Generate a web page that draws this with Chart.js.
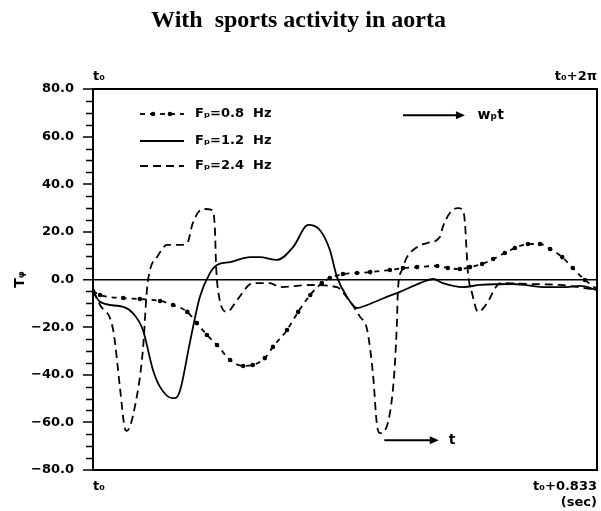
<!DOCTYPE html>
<html lang="en">
<head>
  <meta charset="UTF-8" />
  <title>With sports activity in aorta</title>
  <script src="https://cdn.jsdelivr.net/npm/chart.js"></script>
  <style>
    html, body { margin: 0; padding: 0; background: #fff; }
    #wrap { width: 601px; height: 511px; }
  </style>
</head>
<body>
  <div id="wrap"><canvas id="chart"></canvas></div>
  <script>
    // time axis runs 0..100 (t0 -> t0+0.833 s), values are T_phi
    const yTicks = [-80, -60, -40, -20, 0, 20, 40, 60, 80];
    const bottomLabels = ['t₀', ['t₀+0.833', '(sec)']];
    const topLabels = ['t₀', 't₀+2π'];
    const seriesNames = ['Fₚ=0.8  Hz', 'Fₚ=1.2  Hz', 'Fₚ=2.4  Hz'];

    const x08 = [0, 1.4, 6.0, 9.3, 13.3, 15.9, 18.7, 20.6, 22.6, 24.6, 27.2, 29.8, 31.7, 34.1, 35.7, 38.5, 40.7, 43.1, 45.4, 47.0, 49.6, 52.4, 55.0, 58.9, 61.5, 64.3, 68.3, 70.4, 72.8, 74.8, 77.2, 79.4, 81.7, 83.7, 86.3, 88.7, 90.7, 93.1, 95.2, 97.6, 100];
    const y08 = [-4.8, -6.5, -7.8, -8.2, -9.0, -10.7, -13.6, -18.3, -23.3, -27.5, -33.8, -36.3, -35.9, -33.0, -28.3, -21.2, -13.6, -6.5, -1.5, 0.6, 2.3, 2.7, 3.1, 4.0, 4.8, 5.2, 5.7, 4.8, 4.4, 5.2, 6.5, 8.6, 11.1, 13.2, 14.9, 14.9, 12.8, 9.4, 4.8, -0.2, -4.0];

    const x12 = [0, 1.4, 6.0, 7.9, 9.9, 11.9, 13.3, 15.7, 16.3, 17.3, 19.2, 21.2, 23.2, 24.6, 27.2, 31.2, 33.1, 36.5, 39.7, 42.7, 45.0, 47.0, 48.4, 50.4, 52.4, 54.4, 58.3, 60.9, 64.9, 67.5, 69.4, 73.4, 76.8, 83.3, 90.1, 93.3, 96.6, 100];
    const y12 = [-4.8, -9.4, -11.5, -14.1, -21.2, -38.0, -45.1, -49.8, -49.8, -46.4, -26.7, -7.3, 2.7, 6.1, 7.3, 9.4, 9.4, 8.2, 13.6, 22.9, 20.8, 12.4, 1.1, -7.3, -12.0, -10.7, -7.3, -5.2, -1.5, 0.2, -1.5, -3.2, -2.3, -1.9, -3.2, -3.2, -2.7, -4.4];

    const x24 = [0, 1.4, 4.0, 5.4, 6.3, 6.7, 8.3, 9.9, 10.7, 11.3, 12.7, 14.7, 17.3, 18.7, 19.8, 21.8, 23.6, 24.2, 24.4, 24.8, 26.6, 28.6, 31.7, 35.1, 37.1, 43.1, 48.4, 50.0, 53.0, 54.4, 55.6, 56.3, 56.9, 59.5, 60.3, 60.5, 61.3, 62.3, 64.3, 66.3, 68.8, 69.4, 70.8, 72.4, 73.4, 73.8, 74.2, 74.4, 75.2, 76.4, 78.2, 79.8, 80.8, 86.7, 92.7, 100];
    const y24 = [-4.8, -10.7, -21.2, -46.4, -62.4, -63.6, -53.5, -29.6, -4.4, 4.0, 9.4, 14.5, 14.5, 15.3, 23.7, 29.6, 29.2, 20.8, 6.9, -4.4, -13.6, -8.6, -1.5, -1.5, -3.2, -2.3, -3.2, -6.5, -15.7, -21.2, -40.9, -60.3, -64.5, -46.4, -18.3, -4.4, 4.0, 9.4, 13.6, 15.3, 17.8, 22.0, 27.9, 30.0, 29.2, 23.7, 9.4, 2.7, -5.7, -13.6, -9.9, -3.6, -1.5, -1.9, -2.3, -4.4];

    const pts = (xs, ys) => xs.map((x, i) => ({ x: x, y: ys[i] }));
    const labelFont = { family: 'DejaVu Sans', size: 13, weight: 'bold' };

    // minor ticks every 5 units on the left axis
    const minorTicks = {
      id: 'minorTicks',
      afterDraw(chart) {
        const ctx = chart.ctx, s = chart.scales.y;
        ctx.save();
        ctx.strokeStyle = '#000';
        ctx.lineWidth = 1.5;
        for (let v = -75; v < 80; v += 5) {
          if (v % 20 === 0) continue;
          const py = Math.round(s.getPixelForValue(v)) + 0.5;
          ctx.beginPath();
          ctx.moveTo(s.right - 7, py);
          ctx.lineTo(s.right, py);
          ctx.stroke();
        }
        ctx.restore();
      }
    };

    // legend drawn inside the plot, top left
    const innerLegend = {
      id: 'innerLegend',
      afterDraw(chart) {
        const ctx = chart.ctx;
        const rows = [114, 141, 166];
        ctx.save();
        chart.data.datasets.forEach((ds, i) => {
          const y = rows[i];
          ctx.strokeStyle = '#000';
          ctx.lineWidth = ds.borderWidth;
          ctx.setLineDash(ds.borderDash || []);
          ctx.beginPath();
          ctx.moveTo(140, y);
          ctx.lineTo(184, y);
          ctx.stroke();
          if (ds.pointRadius > 0) {
            ctx.fillStyle = '#000';
            [153, 170].forEach(px => {
              ctx.beginPath();
              ctx.arc(px, y, ds.pointRadius, 0, Math.PI * 2);
              ctx.fill();
            });
          }
          ctx.setLineDash([]);
          ctx.fillStyle = '#000';
          ctx.font = 'bold 13px "DejaVu Sans"';
          ctx.textBaseline = 'middle';
          ctx.fillText(ds.label, 195, y);
        });
        ctx.restore();
      }
    };

    // arrows with w_p t and t
    const arrows = {
      id: 'arrows',
      afterDraw(chart) {
        const ctx = chart.ctx, sx = chart.scales.x, sy = chart.scales.y;
        const list = [
          { x1: 61.5, x2: 73.8, y: 69.0, text: 'wₚt', tx: 76.3 },
          { x1: 57.8, x2: 68.6, y: -67.5, text: 't', tx: 70.6 }
        ];
        ctx.save();
        ctx.strokeStyle = '#000';
        ctx.fillStyle = '#000';
        ctx.lineWidth = 2;
        list.forEach(a => {
          const p1 = sx.getPixelForValue(a.x1), p2 = sx.getPixelForValue(a.x2);
          const py = sy.getPixelForValue(a.y);
          ctx.beginPath();
          ctx.moveTo(p1, py);
          ctx.lineTo(p2 - 6, py);
          ctx.stroke();
          ctx.beginPath();
          ctx.moveTo(p2, py);
          ctx.lineTo(p2 - 9, py - 4);
          ctx.lineTo(p2 - 9, py + 4);
          ctx.closePath();
          ctx.fill();
          ctx.font = 'bold 14px "DejaVu Sans"';
          ctx.textBaseline = 'middle';
          ctx.fillText(a.text, sx.getPixelForValue(a.tx), py);
        });
        ctx.restore();
      }
    };

    const fitX = h => s => { s.height = h; s.paddingLeft = 0; s.paddingRight = 0; };

    new Chart(document.getElementById('chart'), {
      type: 'line',
      data: {
        datasets: [
          {
            label: seriesNames[0],
            data: pts(x08, y08),
            borderColor: '#000',
            borderWidth: 1.8,
            borderDash: [5, 5],
            pointRadius: 2.3,
            pointBackgroundColor: '#000',
            pointBorderWidth: 0,
            cubicInterpolationMode: 'monotone'
          },
          {
            label: seriesNames[1],
            data: pts(x12, y12),
            borderColor: '#000',
            borderWidth: 1.8,
            pointRadius: 0,
            cubicInterpolationMode: 'monotone'
          },
          {
            label: seriesNames[2],
            data: pts(x24, y24),
            borderColor: '#000',
            borderWidth: 1.8,
            borderDash: [8, 5],
            pointRadius: 0,
            cubicInterpolationMode: 'monotone'
          }
        ]
      },
      options: {
        responsive: true,
        maintainAspectRatio: false,
        animation: false,
        layout: { padding: { top: 0, left: 0, right: 4, bottom: 0 } },
        plugins: {
          legend: { display: false },
          tooltip: { enabled: false },
          title: {
            display: true,
            text: 'With  sports activity in aorta',
            color: '#000',
            font: { family: 'Liberation Serif', size: 24, weight: 'bold' },
            padding: { top: 6, bottom: 0 }
          }
        },
        scales: {
          x: {
            type: 'linear',
            position: 'bottom',
            min: 0,
            max: 100,
            afterFit: fitX(41),
            afterBuildTicks: s => { s.ticks = [{ value: 0 }, { value: 100 }]; },
            ticks: {
              color: '#000',
              font: labelFont,
              align: 'inner',
              maxRotation: 0,
              padding: 9,
              callback: v => (v === 0 ? bottomLabels[0] : bottomLabels[1])
            },
            grid: { display: false, drawTicks: false },
            border: { display: true, color: '#000', width: 2 }
          },
          xTop: {
            type: 'linear',
            position: 'top',
            min: 0,
            max: 100,
            afterFit: fitX(89 - 34.8),
            afterBuildTicks: s => { s.ticks = [{ value: 0 }, { value: 100 }]; },
            ticks: {
              color: '#000',
              font: labelFont,
              align: 'inner',
              maxRotation: 0,
              padding: 5,
              callback: v => (v === 0 ? topLabels[0] : topLabels[1])
            },
            grid: { display: false, drawTicks: false },
            border: { display: true, color: '#000', width: 2 }
          },
          y: {
            type: 'linear',
            position: 'left',
            min: -80,
            max: 80,
            afterFit: s => { s.width = 93; },
            afterBuildTicks: s => { s.ticks = yTicks.map(v => ({ value: v })); },
            ticks: {
              color: '#000',
              font: labelFont,
              padding: 9,
              callback: v => (v < 0 ? '−' + Math.abs(v).toFixed(1) : v.toFixed(1))
            },
            grid: {
              drawOnChartArea: true,
              drawTicks: true,
              tickLength: 10,
              tickColor: '#000',
              tickWidth: 1.5,
              color: c => (c.tick && c.tick.value === 0 ? '#000' : 'rgba(0,0,0,0)'),
              lineWidth: c => (c.tick && c.tick.value === 0 ? 1.5 : 0)
            },
            border: { display: true, color: '#000', width: 2 },
            title: {
              display: true,
              text: 'Tᵩ',
              color: '#000',
              font: { family: 'DejaVu Sans', size: 14, weight: 'bold' },
              padding: { top: 12, bottom: 0 }
            }
          },
          yRight: {
            type: 'linear',
            position: 'right',
            min: -80,
            max: 80,
            afterFit: s => { s.width = 0; },
            ticks: { display: false },
            grid: { display: false, drawTicks: false },
            border: { display: true, color: '#000', width: 2 }
          }
        }
      },
      plugins: [minorTicks, innerLegend, arrows]
    });
  </script>
</body>
</html>
